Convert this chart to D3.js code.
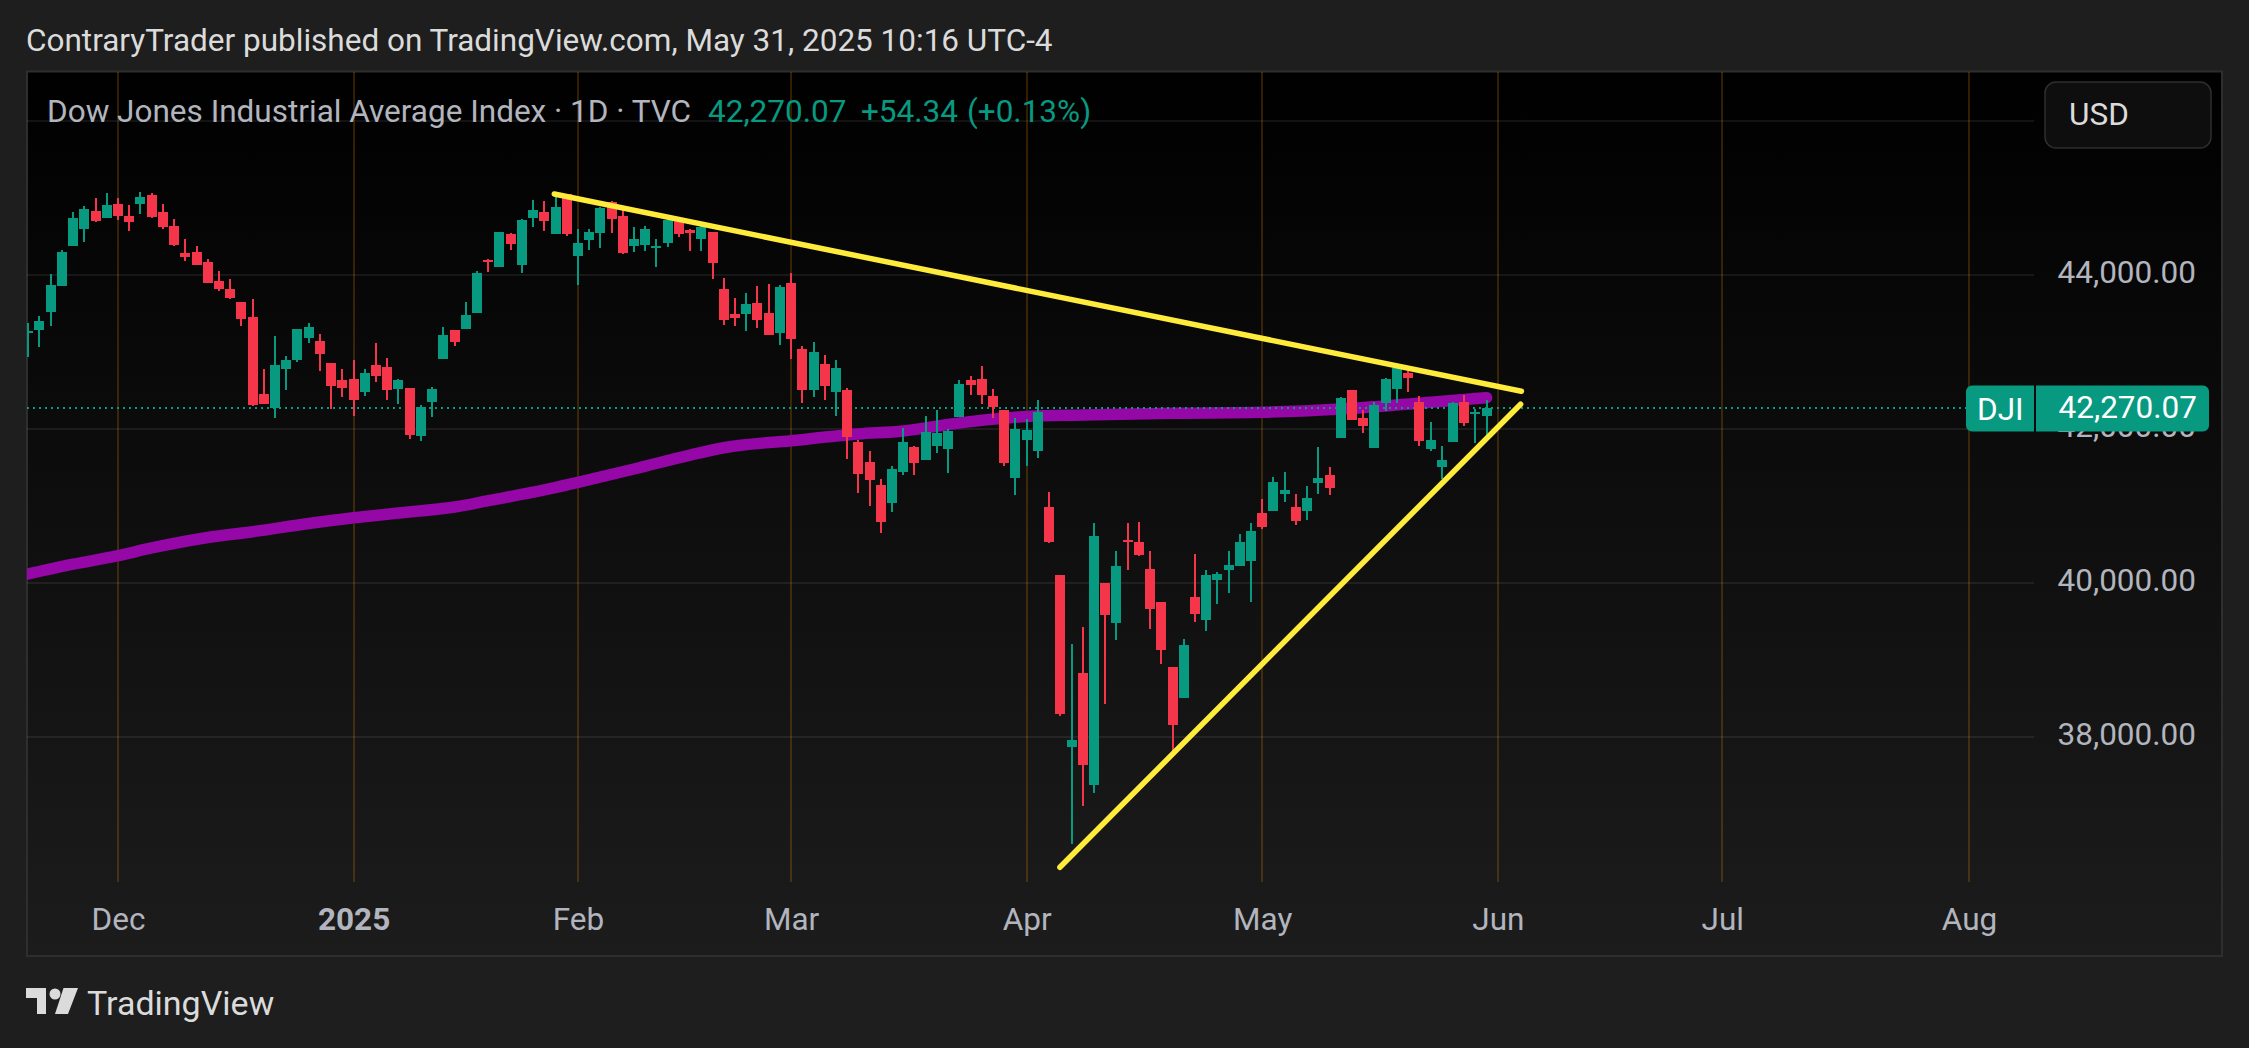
<!DOCTYPE html>
<html>
<head>
<meta charset="utf-8">
<script src="https://d3js.org/d3.v7.min.js"></script>
<style>
html,body{margin:0;padding:0;background:#1e1e1e;overflow:hidden}
svg{display:block}
text{font-family:Roboto,sans-serif}
</style>
</head>
<body>
<script>
const firstBar = -8;
const opens = [43242,43281,43515,43853,44372,44593,44827,44736,44918,44762,44918,45035,44814,44632,44281,44294,44164,43918,43814,43645,43450,42450,42268,42775,42892,43177,43138,42853,42632,42645,42476,42827,42801,42515,42528,41905,42346,42905,43281,43294,43502,44190,44100,44528,44125,44736,44814,44528,45047,44242,44450,44541,44943,44762,44372,44385,44346,44411,44710,44580,44463,44554,43814,43489,43489,43632,43502,43242,43891,43034,42502,42840,42476,42502,41827,41567,41268,41034,41437,41762,41593,41775,41736,42151,42632,42645,42424,42242,41359,41853,41710,40985,40102,37868,38829,37374,39998,39478,40556,40530,40179,39751,38906,38504,39816,39517,40036,40166,40218,40283,40909,40935,41156,40987,40935,41299,41403,41883,42507,42143,41753,42338,42520,42727,42351,41740,41507,41831,42351,42195,42169];
const highs = [43372,43463,44009,44320,44814,44892,44996,45061,44996,44905,45074,45061,44918,44723,44463,44372,44203,44048,43944,43645,43684,42775,43203,42944,43294,43372,43229,42853,42775,42892,42775,43112,42918,42645,42528,42307,42541,43320,43281,43645,44048,44203,44554,44541,44723,44970,44956,45034,45047,44593,44593,44878,44956,44840,44619,44632,44463,44731,44753,44593,44666,44554,43956,43697,43762,43853,43878,43865,44021,43073,43125,42956,42891,42528,41853,41710,41346,41515,42008,41775,42164,42242,41995,42632,42684,42814,42515,42242,42138,42125,42372,41180,40102,39206,39426,40777,39998,40413,40777,40790,40413,39751,38906,39270,40374,40166,40140,40413,40634,40777,41091,41377,41442,41156,41260,41766,41507,42416,42507,42247,42351,42662,42800,42753,42429,42091,41779,42351,42442,42260,42377];
const lows = [42931,43061,43333,43853,44372,44424,44684,44736,44710,44567,44788,44736,44593,44372,44177,44125,43892,43788,43684,43333,42294,42320,42138,42502,42866,43112,42749,42255,42411,42164,42424,42606,42372,42320,41866,41840,42151,42905,43074,43294,43502,44035,44100,44320,44022,44619,44567,44528,44502,43865,44320,44346,44541,44268,44294,44307,44099,44359,44489,44307,44307,43943,43346,43333,43268,43307,43216,43086,42904,42333,42411,42372,42164,41606,41164,40995,40645,40917,41398,41398,41593,41684,41424,42151,42437,42320,42138,41515,41138,41515,41619,40517,38271,36608,37102,37270,38426,39257,40166,40348,39400,38945,37820,38504,39491,39374,39725,39867,40218,39751,40701,40935,41052,40753,40818,41156,41143,41883,42117,41948,41753,42234,42338,42481,41779,41714,41351,41831,42039,41818,41922];
const closes = [43268,43398,43866,44294,44736,44853,44697,44905,44762,44684,45009,44749,44619,44385,44229,44125,43892,43814,43697,43424,42307,42320,42827,42892,43294,43320,42970,42554,42528,42372,42723,42684,42502,42632,41918,42281,42515,43216,43125,43476,44022,44164,44554,44398,44710,44840,44697,44878,44528,44411,44554,44865,44723,44281,44463,44593,44372,44710,44528,44541,44619,44151,43411,43437,43619,43411,43216,43840,43164,42502,42995,42554,42788,41891,41411,41333,40788,41476,41827,41554,41956,41943,41969,42580,42567,42437,42281,41554,41995,41982,42216,40530,38297,37959,37634,40608,39582,40218,40530,40361,39660,39127,38153,39192,39595,40102,40114,40231,40530,40673,40727,41312,41208,40805,41104,41364,41234,42403,42117,42039,42312,42650,42792,42662,41844,41857,41598,42338,42078,42221,42270.07];

const maBars = [-8,-4,0,3,8,12,17,21,25,30,33,38,41,46,51,54,60,66,70,74,81,86,94,102,109,116,122];
const maValues = [40113,40240,40351,40451,40587,40662,40769,40844,40905,40983,41065,41204,41304,41477,41658,41753,41844,41931,41970,42055,42158,42178,42200,42213,42256,42330,42403];

const trendDownBars = [38.89,125.1];
const trendDownValues = [45048,42486];
const trendUpBars = [83.96,125.03];
const trendUpValues = [36304,42317];

const timeTickBars = [0,21,41,60,81,102,123,143,165];
const timeTickLabels = ["Dec","2025","Feb","Mar","Apr","May","Jun","Jul","Aug"];
const priceGrid = [46000,44000,42000,40000,38000];
const priceTicks = [44000,42000,40000,38000];
const lastPrice = 42270.07;
const titleText = "ContraryTrader published on TradingView.com, May 31, 2025 10:16 UTC-4";
const legendName = "Dow Jones Industrial Average Index · 1D · TVC";
const legendValues = ["42,270.07","+54.34","(+0.13%)"];

const W = 2249, H = 1048;
const UP = "#089981", DOWN = "#F5364A", AXIS = "#B2B5BE";
const FS = 31.5;
const x = d3.scaleLinear().domain([0,165]).range([118,1969]);
const y = d3.scaleLinear().domain([38000,44000]).range([736.7,274.7]);

const svg = d3.select("body").append("svg").attr("width",W).attr("height",H);
const defs = svg.append("defs");
const grad = defs.append("linearGradient").attr("id","panel").attr("x1",0).attr("x2",0).attr("y1",0).attr("y2",1);
grad.append("stop").attr("offset","0%").attr("stop-color","#000000");
grad.append("stop").attr("offset","100%").attr("stop-color","#1c1c1c");
defs.append("clipPath").attr("id","pane").append("rect").attr("x",27).attr("y",72).attr("width",2007).attr("height",810);

svg.append("rect").attr("width",W).attr("height",H).attr("fill","#1e1e1e");
svg.append("rect").attr("x",27).attr("y",71.5).attr("width",2195).attr("height",884.5)
  .attr("fill","url(#panel)").attr("stroke","#2e2e2e").attr("stroke-width",2);

// horizontal grid
svg.append("g").attr("clip-path","url(#pane)").selectAll("line").data(priceGrid).join("line")
  .attr("x1",27).attr("x2",2034).attr("y1",d=>y(d)).attr("y2",d=>y(d))
  .attr("stroke","rgba(255,255,255,0.07)").attr("stroke-width",2).attr("shape-rendering","crispEdges");
// vertical grid
svg.append("g").selectAll("line").data(timeTickBars).join("line")
  .attr("x1",d=>x(d)).attr("x2",d=>x(d)).attr("y1",72).attr("y2",882)
  .attr("stroke","rgba(255,152,0,0.2)").attr("stroke-width",2).attr("shape-rendering","crispEdges");

// price axis
const yAxis = d3.axisRight(y).tickValues(priceTicks).tickFormat(d3.format(",.2f")).tickSize(0).tickPadding(0);
const yG = svg.append("g").attr("transform","translate(2196,0)").call(yAxis);
yG.select(".domain").remove();
yG.selectAll("text").attr("text-anchor","end").attr("x",0).attr("dy",null).attr("y",8)
  .attr("font-size",FS).attr("font-family","Roboto,sans-serif").attr("fill",AXIS);

// time axis
const xAxis = d3.axisBottom(x).tickValues(timeTickBars).tickFormat((d,i)=>timeTickLabels[i]).tickSize(0).tickPadding(0);
const xG = svg.append("g").attr("transform","translate(0,930)").call(xAxis);
xG.select(".domain").remove();
xG.selectAll("text").attr("y",0).attr("dy",null).attr("font-size",FS).attr("font-family","Roboto,sans-serif")
  .attr("fill",AXIS).attr("font-weight",(d,i)=>timeTickLabels[i]==="2025"?700:400);

const pane = svg.append("g").attr("clip-path","url(#pane)");

// moving average
const maLine = d3.line().x((d,i)=>x(maBars[i])).y(d=>y(d)).curve(d3.curveMonotoneX);
pane.append("path").attr("d",maLine(maValues)).attr("fill","none").attr("stroke","#9507A6")
  .attr("stroke-width",11.5).attr("stroke-linecap","round").attr("stroke-linejoin","round");

// last price line
pane.append("line").attr("x1",27).attr("x2",1966).attr("y1",y(lastPrice)).attr("y2",y(lastPrice))
  .attr("stroke",UP).attr("stroke-width",2).attr("stroke-dasharray","2 4");

// candles
const bars = closes.map((c,i)=>({b:i+firstBar,o:opens[i],h:highs[i],l:lows[i],c}));
const color = d=>d.c>=d.o?UP:DOWN;
const candles = pane.append("g").attr("shape-rendering","crispEdges");
candles.selectAll(".wick").data(bars).join("rect").attr("class","wick")
  .attr("x",d=>x(d.b)-1).attr("width",2).attr("y",d=>y(d.h)).attr("height",d=>y(d.l)-y(d.h)).attr("fill",color);
candles.selectAll(".body").data(bars).join("rect").attr("class","body")
  .attr("x",d=>x(d.b)-5).attr("width",10)
  .attr("y",d=>y(Math.max(d.o,d.c))).attr("height",d=>Math.max(2,Math.abs(y(d.o)-y(d.c)))).attr("fill",color);

// trend lines
const trend = (bs,vs)=>d3.line().x((d,i)=>x(bs[i])).y(d=>y(d))(vs);
[[trendDownBars,trendDownValues],[trendUpBars,trendUpValues]].forEach(([b,v])=>{
  pane.append("path").attr("d",trend(b,v)).attr("fill","none").attr("stroke","#FFEB3B")
    .attr("stroke-width",5.5).attr("stroke-linecap","round");
});

// texts
svg.append("text").attr("x",26).attr("y",51).attr("font-size",FS).attr("fill","#DBDBDB").text(titleText);
const legend = svg.append("text").attr("y",122).attr("font-size",FS);
legend.append("tspan").attr("x",47).attr("fill",AXIS).text(legendName);
legend.append("tspan").attr("x",708).attr("fill",UP).text(legendValues[0]);
legend.append("tspan").attr("x",861).attr("fill",UP).text(legendValues[1]);
legend.append("tspan").attr("x",967).attr("fill",UP).text(legendValues[2]);

// currency box
svg.append("rect").attr("x",2045).attr("y",82).attr("width",166).attr("height",66).attr("rx",11)
  .attr("fill","#0e0e0e").attr("stroke","#2e2e2e").attr("stroke-width",1.5);
svg.append("text").attr("x",2069).attr("y",125).attr("font-size",FS).attr("fill","#DBDBDB").text("USD");

// last value badges
const by = y(lastPrice);
const badge = svg.append("g");
badge.append("path").attr("fill",UP)
  .attr("d",`M2034 ${by-22.5}H1972a6 6 0 0 0 -6 6V${by+17.5}a6 6 0 0 0 6 6H2034Z`);
badge.append("path").attr("fill",UP)
  .attr("d",`M2036 ${by-22.5}H2203a6 6 0 0 1 6 6V${by+17.5}a6 6 0 0 1 -6 6H2036Z`);
badge.append("text").attr("x",1977).attr("y",by+12).attr("font-size",FS).attr("fill","#fff").text("DJI");
badge.append("text").attr("x",2197).attr("y",by+10).attr("font-size",FS).attr("text-anchor","end").attr("fill","#fff")
  .text(d3.format(",.2f")(lastPrice));

// logo
const logo = svg.append("g").attr("fill","#DBDBDB");
logo.append("path").attr("d","M26 988H46V1014H37V998H26Z");
logo.append("circle").attr("cx",55).attr("cy",994).attr("r",5.5);
logo.append("path").attr("d","M63.5 988H78L68 1014H55Z");
svg.append("text").attr("x",87).attr("y",1015).attr("font-size",34).attr("fill","#DBDBDB").text("TradingView");
</script>
</body>
</html>
